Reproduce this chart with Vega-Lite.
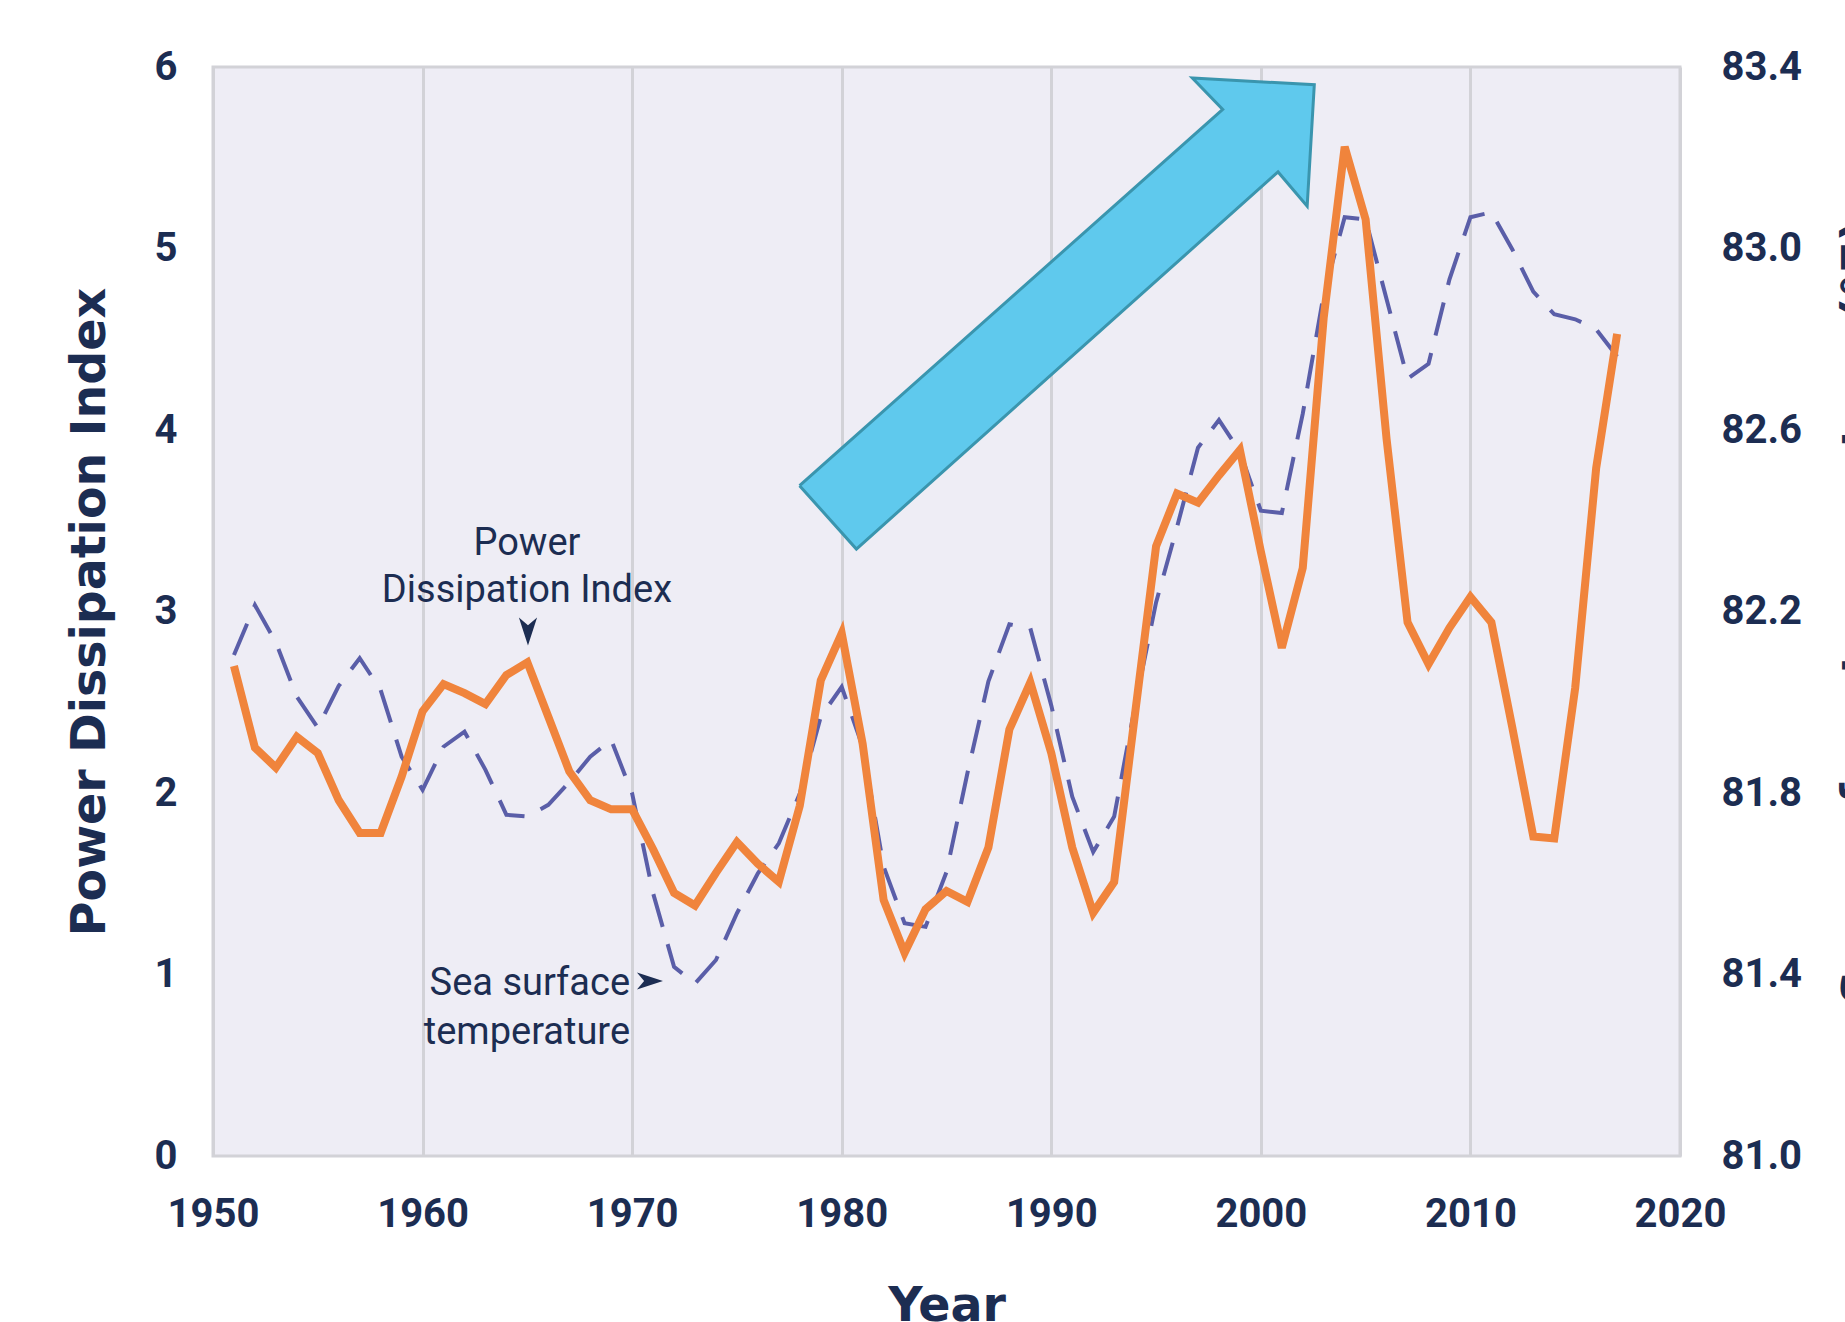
{
  "$schema": "https://vega.github.io/schema/vega-lite/v6.json",
  "width": 1467,
  "height": 1089,
  "autosize": {"type": "none"},
  "padding": {"left": 213, "top": 67, "right": 165, "bottom": 166},
  "background": "white",
  "config": {
    "view": {"fill": "#EEEDF5", "stroke": "#D2D2D7", "strokeWidth": 3},
    "axis": {
      "labelFont": "Roboto", "labelFontSize": 40, "labelFontWeight": "bold", "labelColor": "#1C2D52",
      "ticks": false, "domain": false, "gridColor": "#D2D2D7", "gridWidth": 3,
      "titleFont": "DejaVu Sans", "titleFontSize": 47.5, "titleFontWeight": "bold", "titleColor": "#1C2D52",
      "labelFlush": false, "labelOverlap": false
    },
    "axisX": {"labelPadding": 38, "titlePadding": 48},
    "axisLeft": {"labelPadding": 36},
    "axisRight": {"labelPadding": 41}
  },
  "datasets": {
    "series": [
      {"year": 1951, "pdi": 2.70, "sst": 82.104},
      {"year": 1952, "pdi": 2.25, "sst": 82.214},
      {"year": 1953, "pdi": 2.14, "sst": 82.132},
      {"year": 1954, "pdi": 2.31, "sst": 82.012},
      {"year": 1955, "pdi": 2.22, "sst": 81.944},
      {"year": 1956, "pdi": 1.96, "sst": 82.036},
      {"year": 1957, "pdi": 1.78, "sst": 82.097},
      {"year": 1958, "pdi": 1.78, "sst": 82.027},
      {"year": 1959, "pdi": 2.09, "sst": 81.880},
      {"year": 1960, "pdi": 2.45, "sst": 81.807},
      {"year": 1961, "pdi": 2.60, "sst": 81.902},
      {"year": 1962, "pdi": 2.55, "sst": 81.935},
      {"year": 1963, "pdi": 2.49, "sst": 81.851},
      {"year": 1964, "pdi": 2.65, "sst": 81.752},
      {"year": 1965, "pdi": 2.72, "sst": 81.748},
      {"year": 1966, "pdi": 2.42, "sst": 81.774},
      {"year": 1967, "pdi": 2.12, "sst": 81.824},
      {"year": 1968, "pdi": 1.96, "sst": 81.880},
      {"year": 1969, "pdi": 1.91, "sst": 81.917},
      {"year": 1970, "pdi": 1.91, "sst": 81.799},
      {"year": 1971, "pdi": 1.69, "sst": 81.579},
      {"year": 1972, "pdi": 1.45, "sst": 81.417},
      {"year": 1973, "pdi": 1.38, "sst": 81.380},
      {"year": 1974, "pdi": 1.56, "sst": 81.432},
      {"year": 1975, "pdi": 1.73, "sst": 81.535},
      {"year": 1976, "pdi": 1.61, "sst": 81.623},
      {"year": 1977, "pdi": 1.51, "sst": 81.689},
      {"year": 1978, "pdi": 1.93, "sst": 81.799},
      {"year": 1979, "pdi": 2.62, "sst": 81.968},
      {"year": 1980, "pdi": 2.88, "sst": 82.034},
      {"year": 1981, "pdi": 2.27, "sst": 81.902},
      {"year": 1982, "pdi": 1.41, "sst": 81.638},
      {"year": 1983, "pdi": 1.12, "sst": 81.513},
      {"year": 1984, "pdi": 1.36, "sst": 81.505},
      {"year": 1985, "pdi": 1.46, "sst": 81.626},
      {"year": 1986, "pdi": 1.40, "sst": 81.844},
      {"year": 1987, "pdi": 1.70, "sst": 82.046},
      {"year": 1988, "pdi": 2.35, "sst": 82.172},
      {"year": 1989, "pdi": 2.61, "sst": 82.163},
      {"year": 1990, "pdi": 2.22, "sst": 81.993},
      {"year": 1991, "pdi": 1.70, "sst": 81.792},
      {"year": 1992, "pdi": 1.34, "sst": 81.670},
      {"year": 1993, "pdi": 1.51, "sst": 81.748},
      {"year": 1994, "pdi": 2.44, "sst": 81.993},
      {"year": 1995, "pdi": 3.36, "sst": 82.220},
      {"year": 1996, "pdi": 3.65, "sst": 82.386},
      {"year": 1997, "pdi": 3.60, "sst": 82.561},
      {"year": 1998, "pdi": 3.75, "sst": 82.622},
      {"year": 1999, "pdi": 3.89, "sst": 82.552},
      {"year": 2000, "pdi": 3.33, "sst": 82.422},
      {"year": 2001, "pdi": 2.80, "sst": 82.417},
      {"year": 2002, "pdi": 3.24, "sst": 82.636},
      {"year": 2003, "pdi": 4.62, "sst": 82.899},
      {"year": 2004, "pdi": 5.56, "sst": 83.069},
      {"year": 2005, "pdi": 5.16, "sst": 83.064},
      {"year": 2006, "pdi": 3.95, "sst": 82.888},
      {"year": 2007, "pdi": 2.94, "sst": 82.713},
      {"year": 2008, "pdi": 2.71, "sst": 82.746},
      {"year": 2009, "pdi": 2.91, "sst": 82.932},
      {"year": 2010, "pdi": 3.08, "sst": 83.069},
      {"year": 2011, "pdi": 2.94, "sst": 83.080},
      {"year": 2012, "pdi": 2.36, "sst": 82.998},
      {"year": 2013, "pdi": 1.76, "sst": 82.905},
      {"year": 2014, "pdi": 1.75, "sst": 82.855},
      {"year": 2015, "pdi": 2.58, "sst": 82.844},
      {"year": 2016, "pdi": 3.79, "sst": 82.822},
      {"year": 2017, "pdi": 4.53, "sst": 82.762}
    ],
    "arrow": [
      {"i": 0, "year": 1977.99, "pdi": 3.693},
      {"i": 1, "year": 1998.18, "pdi": 5.766},
      {"i": 2, "year": 1996.73, "pdi": 5.939},
      {"i": 3, "year": 2002.55, "pdi": 5.902},
      {"i": 4, "year": 2002.21, "pdi": 5.233},
      {"i": 5, "year": 2000.82, "pdi": 5.422},
      {"i": 6, "year": 1980.70, "pdi": 3.344},
      {"i": 7, "year": 1977.99, "pdi": 3.693}
    ],
    "pdiNote": [
      {"year": 1964.98, "pdi": 3.372, "label": "Power"},
      {"year": 1964.98, "pdi": 3.113, "label": "Dissipation Index"}
    ],
    "sstNote": [
      {"year": 1969.9, "pdi": 0.948, "label": "Sea surface"},
      {"year": 1969.9, "pdi": 0.678, "label": "temperature"}
    ]
  },
  "encoding": {
    "x": {
      "field": "year", "type": "quantitative",
      "scale": {"domain": [1950, 2020], "nice": false, "zero": false},
      "axis": {"values": [1950, 1960, 1970, 1980, 1990, 2000, 2010, 2020], "format": "d", "title": "Year"}
    }
  },
  "layer": [
    {
      "data": {"name": "series"},
      "mark": {"type": "line", "color": "#5A5EA8", "strokeWidth": 4, "strokeDash": [34, 18]},
      "encoding": {
        "y": {
          "field": "sst", "type": "quantitative",
          "scale": {"domain": [81, 83.4], "nice": false, "zero": false},
          "axis": {
            "orient": "right", "values": [81.0, 81.4, 81.8, 82.2, 82.6, 83.0, 83.4], "format": ".1f",
            "grid": false, "title": "Sea surface temperature (°F)", "titleAngle": 270,
            "titleBaseline": "top", "titlePadding": 36, "labelAlign": "left"
          }
        }
      }
    },
    {
      "encoding": {
        "y": {
          "field": "pdi", "type": "quantitative",
          "scale": {"domain": [0, 6], "nice": false, "zero": false},
          "axis": {"orient": "left", "values": [0, 1, 2, 3, 4, 5, 6], "format": "d", "title": "Power Dissipation Index", "titlePadding": 40}
        }
      },
      "layer": [
        {
          "data": {"name": "series"},
          "mark": {"type": "line", "color": "#F0843C", "strokeWidth": 8}
        },
        {
          "data": {"name": "arrow"},
          "mark": {"type": "line", "fill": "#5FC9ED", "stroke": "#3A95AE", "strokeWidth": 3, "strokeJoin": "miter"},
          "encoding": {"order": {"field": "i", "type": "quantitative"}}
        },
        {
          "data": {"name": "pdiNote"},
          "mark": {"type": "text", "font": "Roboto", "fontSize": 38, "color": "#1C2D52", "align": "center", "baseline": "middle"},
          "encoding": {"text": {"field": "label", "type": "nominal"}}
        },
        {
          "data": {"name": "sstNote"},
          "mark": {"type": "text", "font": "Roboto", "fontSize": 38, "color": "#1C2D52", "align": "right", "baseline": "middle"},
          "encoding": {"text": {"field": "label", "type": "nominal"}}
        },
        {
          "data": {"values": [{"year": 1965.03, "pdi": 2.89}]},
          "mark": {"type": "point", "shape": "M -0.65 -1 L 0 -0.45 L 0.65 -1 L 0 1 Z", "filled": true, "color": "#1C2D52", "opacity": 1, "size": 784}
        },
        {
          "data": {"values": [{"year": 1970.85, "pdi": 0.964}]},
          "mark": {"type": "point", "shape": "M -1 -0.65 L 1 0 L -1 0.65 L -0.45 0 Z", "filled": true, "color": "#1C2D52", "opacity": 1, "size": 676}
        }
      ]
    }
  ],
  "resolve": {"scale": {"y": "independent"}, "axis": {"y": "independent"}}
}
